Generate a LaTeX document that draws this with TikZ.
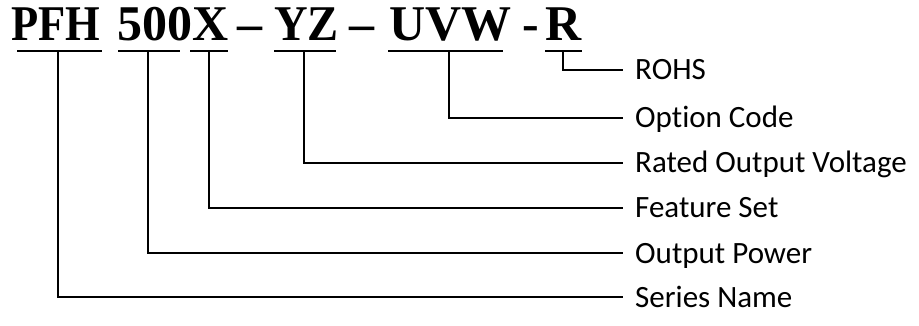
\documentclass[tikz,border=0pt]{standalone}
\usepackage{fontspec}
\setmainfont{Liberation Serif}
\newfontfamily\labfont[Ligatures={NoCommon,NoRare,NoDiscretionary}]{Carlito}
\begin{document}
\begin{tikzpicture}[x=1pt,y=-1pt,
  code/.style={font=\fontsize{50}{50}\selectfont\bfseries, inner sep=0pt, anchor=base west},
  lab/.style={font=\labfont\fontsize{31}{31}\selectfont, inner sep=0pt, text height=20pt, text depth=0pt, anchor=west},
  uline/.style={line width=2.8pt},
  conn/.style={line width=1.3pt}]
\useasboundingbox (0,0) rectangle (919,326);
% title tokens
\node[code, xscale=0.89] (tPFH) at (11,41) {PFH};
\node[code] (t500X) at (117,41) {500X};
\node[code] (td1) at (237,41) {–};
\node[code, xscale=0.93] (tYZ) at (274,41) {YZ};
\node[code] (td2) at (349,41) {–};
\node[code] (tUVW) at (389,41) {UVW};
\node[code] (th) at (522,41) {-};
\node[code] (tR) at (545,41) {R};
% underline ends
\coordinate (a1) at (17,51);  \coordinate (b1) at (102,51);
\coordinate (a2) at (118,51); \coordinate (b2) at (180,51);
\coordinate (a3) at (190,51); \coordinate (b3) at (228,51);
\coordinate (a4) at (274,51); \coordinate (b4) at (336,51);
\coordinate (a5) at (388,51); \coordinate (b5) at (503,51);
\coordinate (a6) at (545,51); \coordinate (b6) at (582,51);
\foreach \i in {1,...,6} \draw[uline] (a\i) -- (b\i);
% tap points
\coordinate (c1) at (58,51);
\coordinate (c2) at (148,51);
\coordinate (c3) at (209,51);
\coordinate (c4) at (304,51);
\coordinate (c5) at (449,51);
\coordinate (c6) at (563,51);
% labels
\node[lab] (l6) at (635,70) {ROHS};
\node[lab] (l5) at (635,118) {Option Code};
\node[lab] (l4) at (635,163) {Rated Output Voltage};
\node[lab] (l3) at (635,208) {Feature Set};
\node[lab] (l2) at (635,253) {Output Power};
\node[lab] (l1) at (635,297) {Series Name};
\foreach \i in {1,...,6} \draw[conn] (c\i) |- ([xshift=-12pt]l\i.west);
\end{tikzpicture}
\end{document}
